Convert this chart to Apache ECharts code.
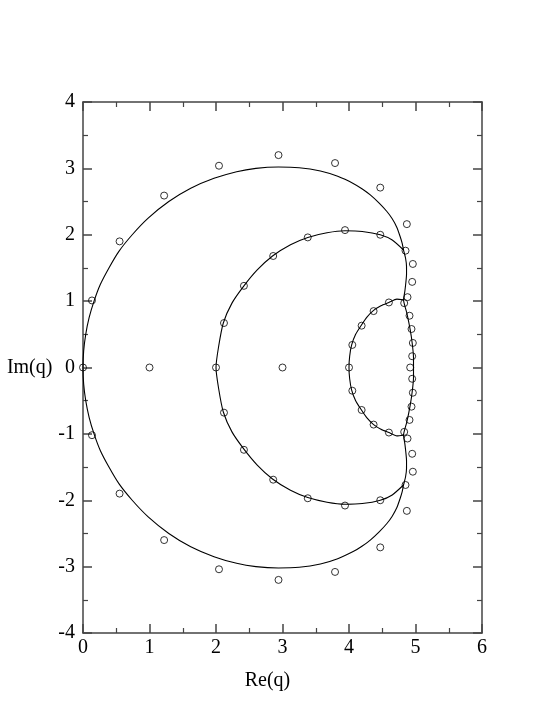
<!DOCTYPE html>
<html>
<head>
<meta charset="utf-8">
<script src="https://cdn.jsdelivr.net/npm/echarts@6/dist/echarts.min.js"></script>
<style>
  html, body { margin: 0; padding: 0; background: #fff; }
  #chart { width: 554px; height: 717px; }
</style>
</head>
<body>
<div id="chart"></div>
<script>
// zeros (open circles)
const zeros = [
  [0, 0], [1, 0], [2, 0], [3, 0], [4, 0], [4.92, 0],
  [0.135, 1.01], [0.55, 1.90], [1.22, 2.59], [2.045, 3.04], [2.94, 3.20], [3.79, 3.08], [4.47, 2.71], [4.87, 2.16],
  [4.85, 1.76], [4.96, 1.56], [4.95, 1.29], [4.88, 1.06], [4.83, 0.97], [4.91, 0.78], [4.94, 0.58], [4.96, 0.37], [4.95, 0.17],
  [2.12, 0.67], [2.42, 1.23], [2.86, 1.68], [3.38, 1.96], [3.94, 2.07], [4.47, 2.00],
  [4.05, 0.34], [4.19, 0.63], [4.37, 0.85], [4.60, 0.98],
  [0.135, -1.02], [0.55, -1.90], [1.22, -2.60], [2.045, -3.04], [2.94, -3.20], [3.79, -3.08], [4.47, -2.71], [4.87, -2.16],
  [4.85, -1.77], [4.96, -1.57], [4.95, -1.30], [4.88, -1.07], [4.83, -0.97], [4.91, -0.79], [4.94, -0.59], [4.96, -0.38], [4.95, -0.17],
  [2.12, -0.68], [2.42, -1.24], [2.86, -1.69], [3.38, -1.97], [3.94, -2.08], [4.47, -2.00],
  [4.05, -0.35], [4.19, -0.64], [4.37, -0.86], [4.60, -0.98]
];

// outer boundary curve (closed loop, starting on the right at Im = 0)
const outerCurve = [
  [4.97, 0], [4.97, 0.15], [4.95, 0.37], [4.92, 0.57], [4.87, 0.82], [4.82, 1.02],
  [4.84, 1.15], [4.855, 1.28], [4.865, 1.40], [4.865, 1.52], [4.85, 1.65], [4.82, 1.77],
  [4.80, 1.87], [4.77, 1.97], [4.72, 2.11], [4.65, 2.24], [4.57, 2.35], [4.45, 2.48], [4.32, 2.60],
  [4.20, 2.69], [4.07, 2.77], [3.83, 2.88], [3.57, 2.96], [3.25, 3.01], [2.94, 3.02], [2.60, 3.00],
  [2.31, 2.95], [1.97, 2.85], [1.62, 2.70], [1.29, 2.50], [0.98, 2.25], [0.74, 2.00], [0.54, 1.75],
  [0.39, 1.50], [0.26, 1.25], [0.166, 1.00], [0.092, 0.75], [0.041, 0.50], [0.010, 0.25], [0, 0],
  [0.010, -0.25], [0.041, -0.50], [0.092, -0.75], [0.166, -1.00], [0.26, -1.25], [0.39, -1.50],
  [0.54, -1.75], [0.74, -2.00], [0.98, -2.25], [1.29, -2.50], [1.62, -2.70], [1.97, -2.85],
  [2.31, -2.95], [2.60, -3.00], [2.94, -3.02], [3.25, -3.01], [3.57, -2.96], [3.83, -2.88],
  [4.07, -2.77], [4.20, -2.69], [4.32, -2.60], [4.45, -2.48], [4.57, -2.35], [4.65, -2.24],
  [4.72, -2.11], [4.77, -1.97], [4.80, -1.87], [4.82, -1.77],
  [4.85, -1.65], [4.865, -1.52], [4.865, -1.40], [4.855, -1.28], [4.84, -1.15], [4.82, -1.02],
  [4.87, -0.82], [4.92, -0.57], [4.95, -0.37], [4.97, -0.15], [4.97, 0]
];

// middle branch, from upper junction round to lower junction
const middleCurve = [
  [4.82, 1.77], [4.65, 1.92], [4.47, 2.00], [4.20, 2.05], [3.94, 2.06], [3.67, 2.03], [3.38, 1.96],
  [3.12, 1.85], [2.85, 1.68], [2.62, 1.47], [2.42, 1.23], [2.24, 0.97], [2.11, 0.67], [2.04, 0.32],
  [2.0, 0],
  [2.04, -0.32], [2.11, -0.67], [2.24, -0.97], [2.42, -1.23], [2.62, -1.47], [2.85, -1.68],
  [3.12, -1.85], [3.38, -1.96], [3.67, -2.03], [3.94, -2.06], [4.20, -2.05], [4.47, -2.00],
  [4.65, -1.92], [4.82, -1.77]
];

// inner branch
const innerCurve = [
  [4.82, 1.02], [4.72, 1.03], [4.60, 0.98], [4.48, 0.93], [4.37, 0.86], [4.27, 0.76], [4.18, 0.63],
  [4.10, 0.50], [4.04, 0.34], [4.01, 0.17], [4.0, 0], [4.01, -0.17], [4.04, -0.34], [4.10, -0.50],
  [4.18, -0.63], [4.27, -0.76], [4.37, -0.86], [4.48, -0.93], [4.60, -0.98], [4.72, -1.03], [4.82, -1.02]
];

const font = '"Liberation Serif", "DejaVu Serif", serif';
const frameLine = { color: '#444', width: 1.5 };

function axisBase(min, max, show) {
  return {
    type: 'value', min: min, max: max, interval: 1,
    axisLine: { show: true, onZero: false, lineStyle: frameLine },
    axisTick: { show: true, inside: true, length: 9, lineStyle: frameLine },
    minorTick: { show: true, splitNumber: 2, length: 5, lineStyle: { color: '#444', width: 1.2 } },
    splitLine: { show: false },
    axisLabel: { show: show, color: '#000', fontFamily: font, fontSize: 20 }
  };
}

const xBottom = Object.assign(axisBase(0, 6, true), {
  position: 'bottom',
  name: 'Re(q)', nameLocation: 'middle', nameGap: 38,
  nameTextStyle: { color: '#000', fontFamily: font, fontSize: 20, padding: [0, 30, 0, 0] }
});
xBottom.axisLabel.margin = 5;
const xTop = Object.assign(axisBase(0, 6, false), { position: 'top' });
const yLeft = Object.assign(axisBase(-4, 4, true), {
  position: 'left',
  name: 'Im(q)', nameLocation: 'middle', nameGap: 21, nameRotate: 0,
  nameTextStyle: { color: '#000', fontFamily: font, fontSize: 20, align: 'right', verticalAlign: 'middle' }
});
yLeft.axisLabel.margin = 8;
const yRight = Object.assign(axisBase(-4, 4, false), { position: 'right' });

function curve(data) {
  return {
    type: 'line', data: data, showSymbol: false, smooth: 0.2, silent: true,
    lineStyle: { color: '#000', width: 1.1 }, z: 2
  };
}

const chart = echarts.init(document.getElementById('chart'));
chart.setOption({
  animation: false,
  backgroundColor: '#fff',
  grid: { left: 83, right: 72, top: 102, bottom: 84 },
  xAxis: [xBottom, xTop],
  yAxis: [yLeft, yRight],
  series: [
    curve(outerCurve),
    curve(middleCurve),
    curve(innerCurve),
    {
      type: 'scatter', data: zeros, symbol: 'circle', symbolSize: 7, z: 3,
      itemStyle: { color: 'rgba(0,0,0,0)', borderColor: '#000', borderWidth: 1 }
    }
  ]
});
</script>
</body>
</html>
